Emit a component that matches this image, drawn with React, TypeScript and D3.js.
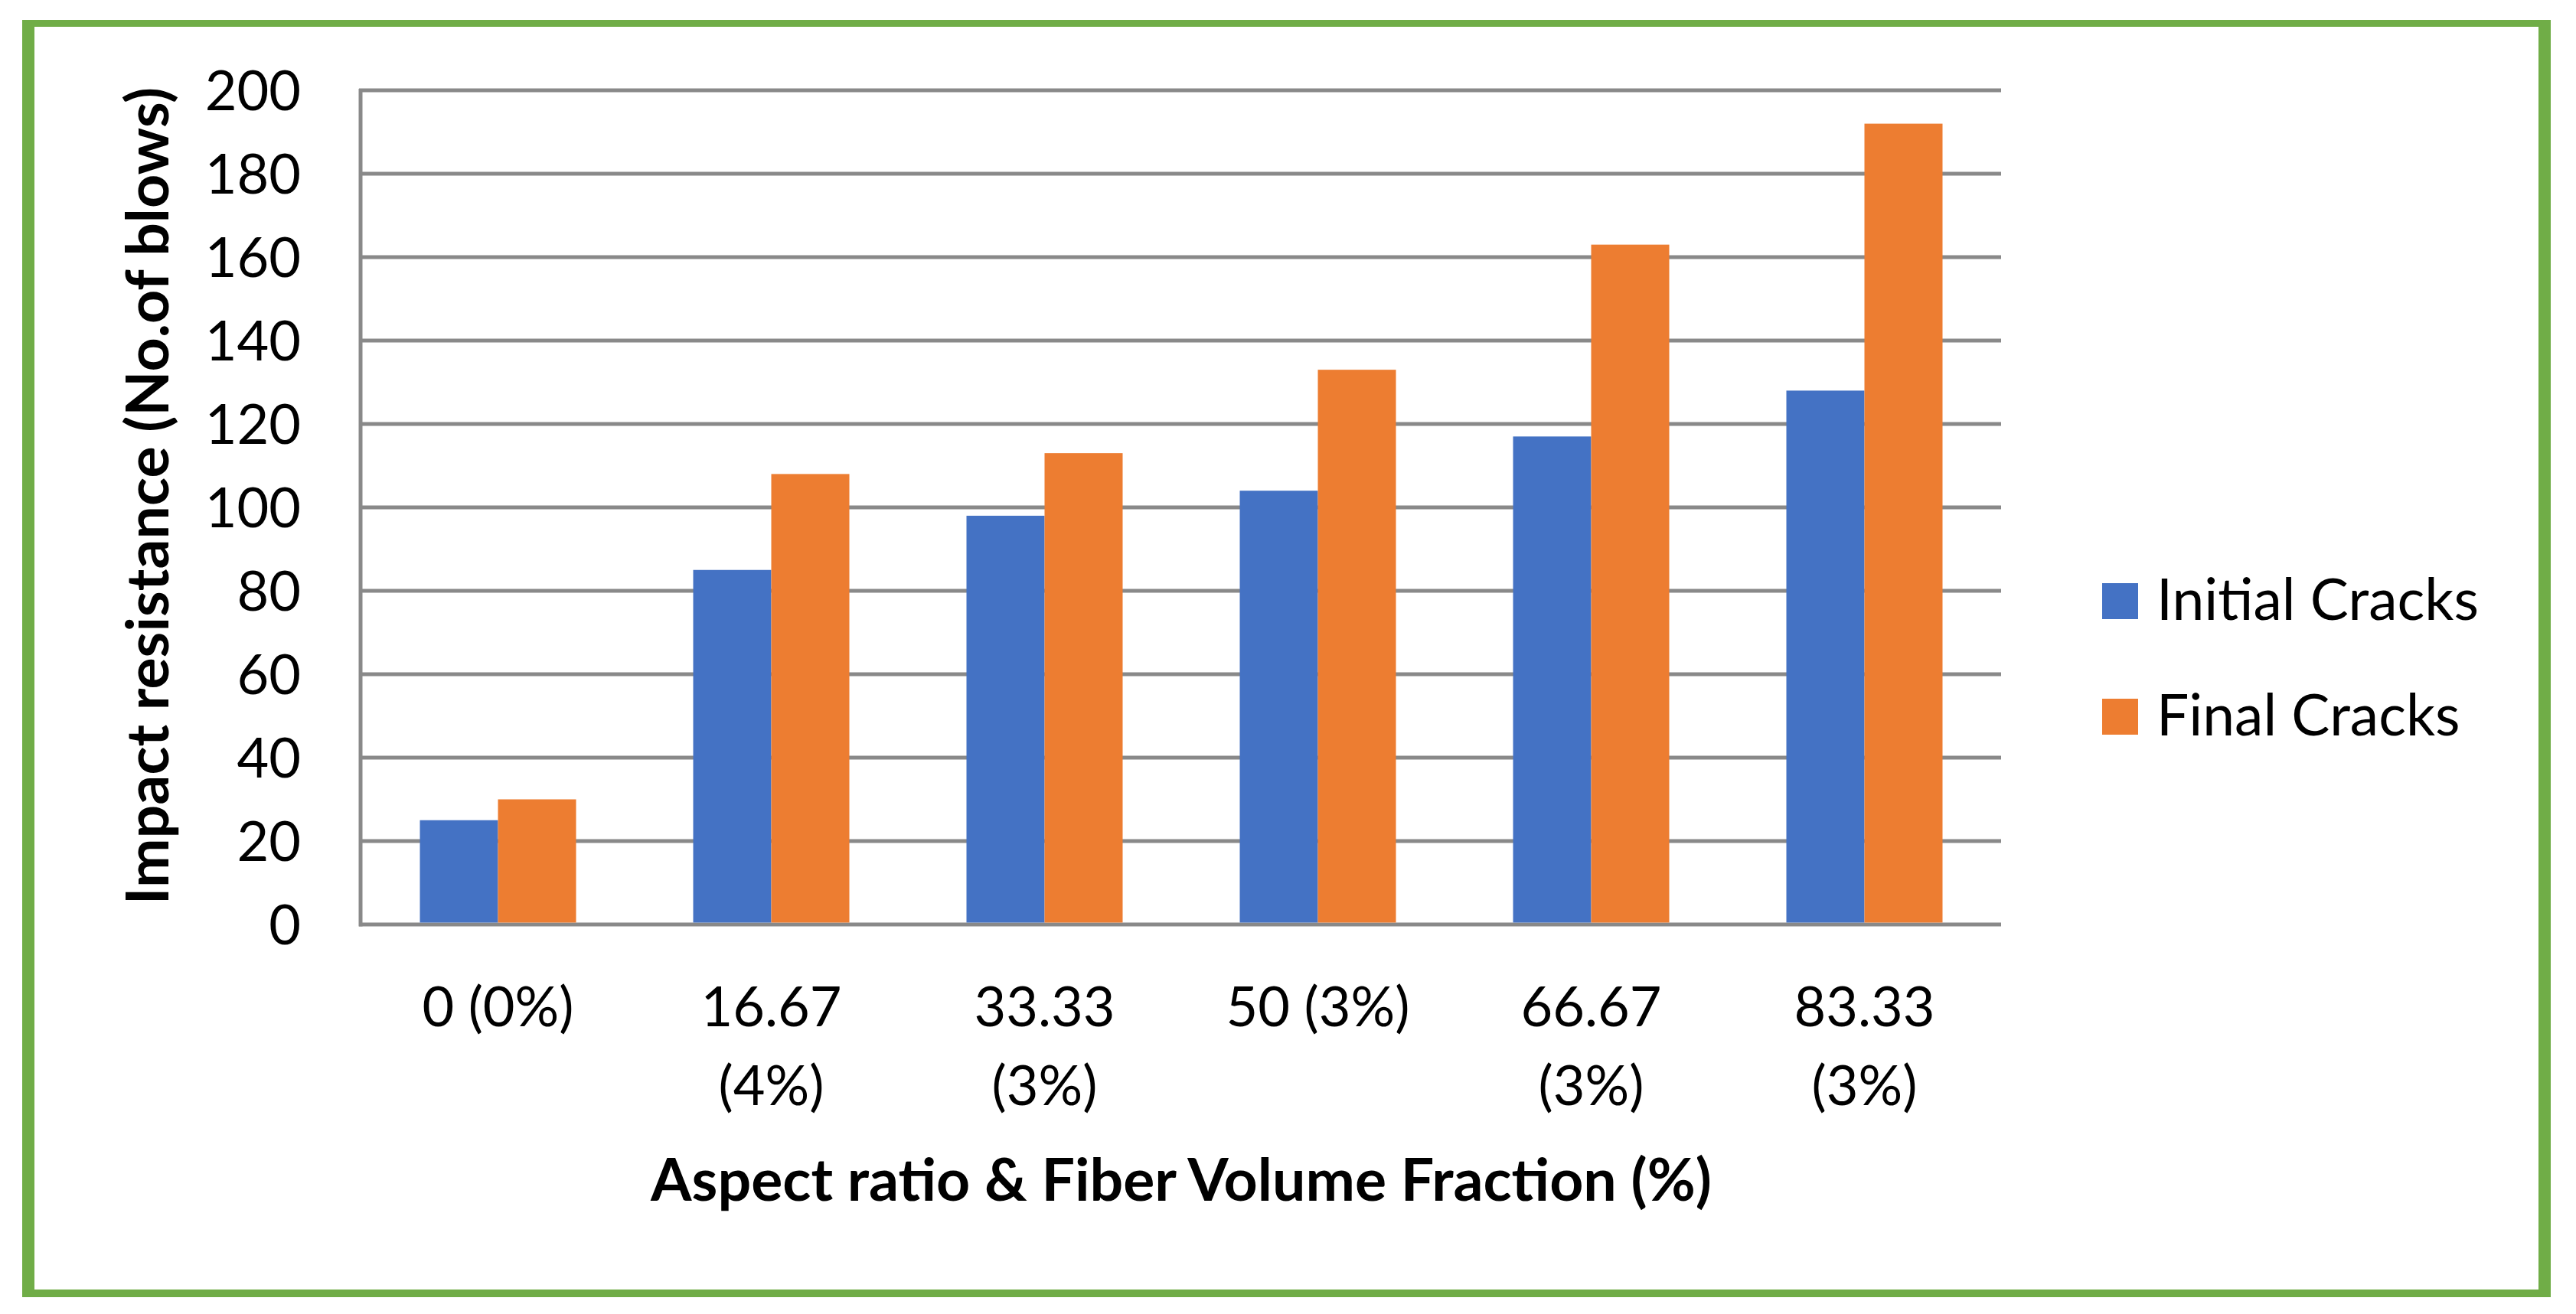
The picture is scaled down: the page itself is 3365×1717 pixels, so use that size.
import * as d3 from "d3";

const categories = ["0 (0%)", "16.67 (4%)", "33.33 (3%)", "50 (3%)", "66.67 (3%)", "83.33 (3%)"];
// how each category label is broken over lines
const categoryLines = [["0 (0%)"], ["16.67", "(4%)"], ["33.33", "(3%)"], ["50 (3%)"], ["66.67", "(3%)"], ["83.33", "(3%)"]];
const seriesNames = ["Initial Cracks", "Final Cracks"];
const initialCracks = [25, 85, 98, 104, 117, 128];
const finalCracks = [30, 108, 113, 133, 163, 192];
const yTicks = [0, 20, 40, 60, 80, 100, 120, 140, 160, 180, 200];
const seriesColors = ["#4472C4", "#ED7D31"];

const width = 3365;
const height = 1717;
const font = "Lato, 'Noto Sans', sans-serif";

export default function App() {
  const x = d3.scaleBand().domain(categories).range([472, 2614]).padding(0);
  const xs = d3
    .scaleBand()
    .domain(seriesNames)
    .range([0, x.bandwidth()])
    .paddingInner(0)
    .paddingOuter(0.75);
  const y = d3.scaleLinear().domain([0, 200]).range([1208, 118]);

  const values = [initialCracks, finalCracks];

  return (
    <svg
      width={width}
      height={height}
      style={{ position: "absolute", left: 0, top: 0, background: "#fff" }}
      fontFamily={font}
    >
      <rect width={width} height={height} fill="#fff" />
      {/* green frame */}
      <rect x={29} y={26} width={16} height={1669} fill="#70AD47" />
      <rect x={3316} y={26} width={16} height={1669} fill="#70AD47" />
      <rect x={29} y={26} width={3303} height={9} fill="#70AD47" />
      <rect x={29} y={1685} width={3303} height={10} fill="#70AD47" />

      {/* gridlines */}
      {yTicks.map((t) => (
        <line key={t} x1={469} x2={x.range()[1]} y1={y(t)} y2={y(t)} stroke="#898989" strokeWidth={5} />
      ))}
      <line x1={471} x2={471} y1={y(200) - 2} y2={y(0) + 2.5} stroke="#898989" strokeWidth={5} />

      {/* bars */}
      {categories.map((c, i) =>
        seriesNames.map((s, j) => (
          <rect
            key={c + s}
            x={(x(c) as number) + (xs(s) as number)}
            y={y(values[j][i])}
            width={xs.bandwidth()}
            height={y(0) - 2.5 - y(values[j][i])}
            fill={seriesColors[j]}
          />
        ))
      )}

      {/* y tick labels */}
      {yTicks.map((t) => (
        <text key={t} x={393} y={y(t)} dy="0.36em" textAnchor="end" fontSize={72} fill="#000">
          {t}
        </text>
      ))}

      {/* category labels */}
      {categories.map((c, i) => (
        <text key={c} textAnchor="middle" fontSize={72} fill="#000">
          {categoryLines[i].map((line, k) => (
            <tspan key={k} x={(x(c) as number) + x.bandwidth() / 2} y={1341 + k * 103}>
              {line}
            </tspan>
          ))}
        </text>
      ))}

      {/* axis titles */}
      <text
        transform={`translate(220,648) rotate(-90)`}
        textAnchor="middle"
        fontSize={77}
        fontWeight="bold"
        fill="#000"
      >
        Impact resistance (No.of blows)
      </text>
      <text x={(472 + 2614) / 2} y={1569} textAnchor="middle" fontSize={77} fontWeight="bold" fill="#000">
        Aspect ratio &amp; Fiber Volume Fraction (%)
      </text>

      {/* legend */}
      {seriesNames.map((s, j) => (
        <g key={s} transform={`translate(2746,${762 + j * 151})`}>
          <rect width={47} height={47} fill={seriesColors[j]} />
          <text x={71} y={48} fontSize={75} fill="#000">
            {s}
          </text>
        </g>
      ))}
    </svg>
  );
}
